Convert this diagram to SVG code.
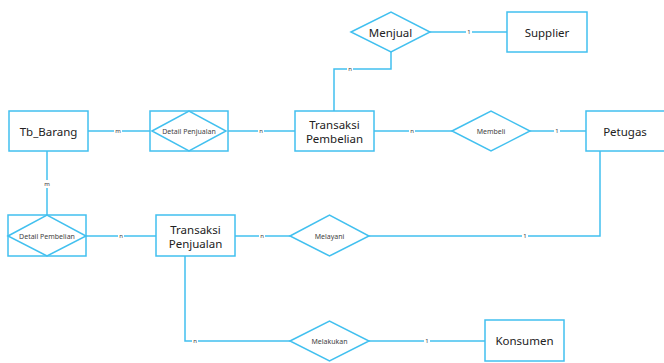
<svg xmlns="http://www.w3.org/2000/svg" width="664" height="363" viewBox="0 0 664 363">
<style>
.s{fill:#fff;stroke:#42c0ef;stroke-width:1.5}
.l{fill:none;stroke:#42c0ef;stroke-width:1.5}
.t{font-family:"Noto Sans","Open Sans",sans-serif;font-size:11.5px;fill:#222;text-anchor:middle;dominant-baseline:central}
.r{font-family:"Noto Sans","Open Sans",sans-serif;font-size:7px;fill:#444;text-anchor:middle;dominant-baseline:central}
.c{font-family:"Noto Sans","Open Sans",sans-serif;font-size:6px;fill:#333;text-anchor:middle;dominant-baseline:central}
.b{fill:#fff}
</style>
<rect width="664" height="363" fill="#fff"/>
<g id="connectors">
<path class="l" d="M88 131H150"/>
<path class="l" d="M228 131H295"/>
<path class="l" d="M374 131H452"/>
<path class="l" d="M530 131H586"/>
<path class="l" d="M430 32H507"/>
<path class="l" d="M391 52V69H334V111"/>
<path class="l" d="M47 151V215"/>
<path class="l" d="M86 236H156"/>
<path class="l" d="M235 236H290"/>
<path class="l" d="M369 236H600V151"/>
<path class="l" d="M185 256V341H290"/>
<path class="l" d="M369 341H485"/>
<g>
<rect class="b" x="114" y="127" width="8" height="8"/><text class="c" x="118" y="131">m</text>
<rect class="b" x="258" y="127" width="6" height="8"/><text class="c" x="261" y="131">n</text>
<rect class="b" x="409" y="127" width="6" height="8"/><text class="c" x="412" y="131">n</text>
<rect class="b" x="554" y="127" width="6" height="8"/><text class="c" x="557" y="131">1</text>
<rect class="b" x="466" y="28" width="6" height="8"/><text class="c" x="469" y="32">1</text>
<rect class="b" x="347" y="65" width="6" height="8"/><text class="c" x="350" y="69">n</text>
<rect class="b" x="43" y="180" width="8" height="8"/><text class="c" x="47" y="184">m</text>
<rect class="b" x="118" y="232" width="6" height="8"/><text class="c" x="121" y="236">n</text>
<rect class="b" x="259" y="232" width="6" height="8"/><text class="c" x="262" y="236">n</text>
<rect class="b" x="522" y="232" width="6" height="8"/><text class="c" x="525" y="236">1</text>
<rect class="b" x="192" y="337" width="6" height="8"/><text class="c" x="195" y="341">n</text>
<rect class="b" x="424" y="337" width="6" height="8"/><text class="c" x="427" y="341">1</text>
</g>
</g>
<g id="tb_barang"><rect class="s" x="9" y="111" width="79" height="40"/><text class="t" x="48.5" y="131">Tb_Barang</text></g>
<g id="detail_penjualan"><rect class="s" x="150" y="111" width="78" height="40"/><path class="s" d="M152 131L189 111L226 131L189 151Z"/><text class="r" x="189" y="131">Detail Penjualan</text></g>
<g id="transaksi_pembelian"><rect class="s" x="295" y="111" width="79" height="40"/><text class="t" x="334.5" y="124">Transaksi</text><text class="t" x="334.5" y="138">Pembelian</text></g>
<g id="membeli"><path class="s" d="M452 131L491 111L530 131L491 151Z"/><text class="r" x="491" y="131">Membeli</text></g>
<g id="petugas"><rect class="s" x="586" y="111" width="82" height="40"/><text class="t" x="625" y="131">Petugas</text></g>
<g id="menjual"><path class="s" d="M351 32L391 12L430 32L391 52Z"/><text class="t" x="390.5" y="32">Menjual</text></g>
<g id="supplier"><rect class="s" x="507" y="12" width="80" height="40"/><text class="t" x="547" y="32">Supplier</text></g>
<g id="detail_pembelian"><rect class="s" x="8" y="215" width="78" height="41"/><path class="s" d="M8 236L47 215L86 236L47 256Z"/><text class="r" x="47" y="236">Detail Pembelian</text></g>
<g id="transaksi_penjualan"><rect class="s" x="156" y="215" width="79" height="41"/><text class="t" x="195.5" y="229">Transaksi</text><text class="t" x="195.5" y="243">Penjualan</text></g>
<g id="melayani"><path class="s" d="M290 236L329.5 215L369 236L329.5 256Z"/><text class="r" x="329.5" y="236">Melayani</text></g>
<g id="melakukan"><path class="s" d="M290 341L329.5 321L369 341L329.5 361Z"/><text class="r" x="329.5" y="341">Melakukan</text></g>
<g id="konsumen"><rect class="s" x="485" y="320" width="79" height="41"/><text class="t" x="524.5" y="340.5">Konsumen</text></g>
</svg>
